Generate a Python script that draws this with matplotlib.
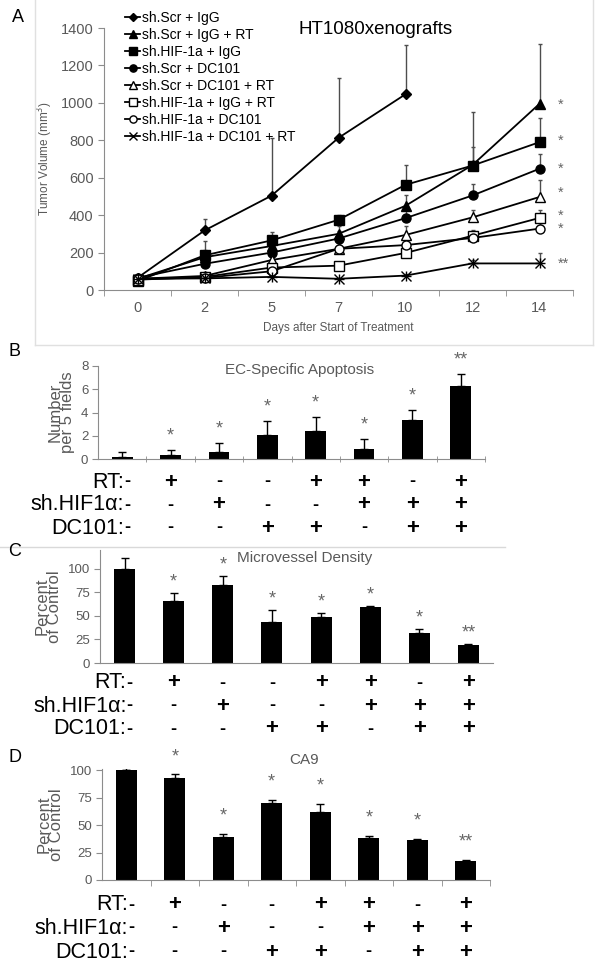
import matplotlib
matplotlib.use("Agg")
import matplotlib.pyplot as plt
from matplotlib.lines import Line2D

plt.rcParams['font.family'] = ['Liberation Sans', 'DejaVu Sans']

# ---- panel A data ----
days = ["0", "2", "5", "7", "10", "12", "14"]
series_names = ["sh.Scr + IgG", "sh.Scr + IgG + RT", "sh.HIF-1a + IgG", "sh.Scr + DC101",
                "sh.Scr + DC101 + RT", "sh.HIF-1a + IgG + RT", "sh.HIF-1a + DC101",
                "sh.HIF-1a + DC101 + RT"]
scr_igg = [65, 318, 504, 813, 1046]
scr_igg_rt = [60, 175, 235, 300, 450, 668, 995]
hif_igg = [48, 185, 265, 375, 562, 665, 790]
scr_dc101 = [65, 140, 200, 275, 384, 505, 648]
scr_dc101_rt = [60, 75, 160, 220, 294, 388, 497]
hif_igg_rt = [55, 70, 120, 130, 198, 290, 385]
hif_dc101 = [60, 65, 100, 220, 240, 278, 328]
hif_dc101_rt = [60, 62, 70, 60, 77, 142, 142]

err_scr_igg = [0, 62, 306, 318, 262]
err_scr_igg_rt = [0, 85, 55, 40, 60, 282, 320]
err_hif_igg = [0, 30, 45, 25, 105, 100, 130]
err_scr_dc101 = [0, 40, 40, 40, 50, 60, 80]
err_scr_dc101_rt = [0, 20, 30, 30, 48, 40, 92]
err_hif_igg_rt = [0, 10, 30, 20, 30, 30, 40]
err_hif_dc101 = [0, 10, 20, 20, 20, 30, 30]
err_hif_dc101_rt = [0, 5, 10, 5, 10, 20, 55]

a_stars = ["*", "*", "*", "*", "*", "*", "**"]
a_star_vals = [990, 800, 650, 520, 398, 328, 140]

# ---- panels B-D data ----
rt_row = ["-", "+", "-", "-", "+", "+", "-", "+"]
hif_row = ["-", "-", "+", "-", "-", "+", "+", "+"]
dc_row = ["-", "-", "-", "+", "+", "-", "+", "+"]
bar_stars = ["", "*", "*", "*", "*", "*", "*", "**"]

apoptosis = [0.15, 0.35, 0.6, 2.1, 2.45, 0.9, 3.35, 6.25]
apoptosis_err = [0.45, 0.45, 0.75, 1.15, 1.2, 0.85, 0.9, 1.1]
mvd = [100, 66, 83, 44, 49, 60, 32, 19]
mvd_err = [11, 8, 9, 12, 4, 1, 4, 1]
ca9 = [100, 93, 39, 70, 62, 38, 36, 17]
ca9_err = [1.5, 3, 3, 3, 7, 2, 1.5, 1.5]

W, H = 600, 964
fig = plt.figure(figsize=(W / 100, H / 100), dpi=100)


def fbox(l, t, r, b):
    return [l / W, 1 - b / H, (r - l) / W, (b - t) / H]


grey = "0.35"
spine = "0.55"

# faint frame around panel A
fig.add_artist(Line2D([35 / W, 35 / W], [1, 1 - 345 / H], color="0.88", lw=1))
fig.add_artist(Line2D([593 / W, 593 / W], [1, 1 - 345 / H], color="0.88", lw=1))
fig.add_artist(Line2D([35 / W, 593 / W], [1 - 345 / H, 1 - 345 / H], color="0.88", lw=1))
# faint line above panel C
fig.add_artist(Line2D([0, 505 / W], [1 - 547 / H, 1 - 547 / H], color="0.85", lw=1))

# ================= Panel A =================
ax = fig.add_axes(fbox(104, 28, 573, 290))
ys = [scr_igg, scr_igg_rt, hif_igg, scr_dc101, scr_dc101_rt, hif_igg_rt, hif_dc101, hif_dc101_rt]
errs = [err_scr_igg, err_scr_igg_rt, err_hif_igg, err_scr_dc101, err_scr_dc101_rt,
        err_hif_igg_rt, err_hif_dc101, err_hif_dc101_rt]
styles = [("D", "k", 5), ("^", "k", 6.5), ("s", "k", 6.5), ("o", "k", 6.5),
          ("^", "w", 6.5), ("s", "w", 6.5), ("o", "w", 6.5), ("x", "k", 6.5)]
handles = []
for y, e, (m, fc, ms), name in zip(ys, errs, styles, series_names):
    x = list(range(len(y)))
    ax.errorbar(x, y, yerr=[[0] * len(y), e], fmt="none", ecolor="0.3", elinewidth=1,
                capsize=1.5, zorder=2)
    ln, = ax.plot(x, y, color="k", lw=1.3, marker=m, markersize=ms, markerfacecolor=fc,
                  markeredgecolor="k", markeredgewidth=1.0, label=name, zorder=3)
    if m == "x":
        ax.plot(x, y, ls="none", marker="+", markersize=ms, color="k", mew=1.0, zorder=3)
    handles.append(ln)

for s, v in zip(a_stars, a_star_vals):
    ax.text(6.27, v, s, fontsize=10.5, color="0.4", ha="left", va="center")

ax.set_xlim(-0.5, 6.5)
ax.set_ylim(0, 1400)
ax.set_xticks(range(7))
ax.set_xticklabels(days)
ax.set_xticks([i + 0.5 for i in range(-1, 7)], minor=True)
ax.tick_params(axis="x", which="major", length=0, pad=8, labelsize=10.5, labelcolor=grey)
ax.tick_params(axis="x", which="minor", length=4, color=spine, direction="out")
ax.set_yticks(range(0, 1401, 200))
ax.tick_params(axis="y", length=4, color=spine, labelsize=10.5, labelcolor=grey)
for s in ["top", "right"]:
    ax.spines[s].set_visible(False)
for s in ["left", "bottom"]:
    ax.spines[s].set_color(spine)
ax.set_ylabel("Tumor Volume (mm$^3$)", fontsize=8.5, color=grey, labelpad=4)
ax.set_xlabel("Days after Start of Treatment", fontsize=8.5, color=grey, labelpad=5)
ax.text(0.58, 0.995, "HT1080xenografts", transform=ax.transAxes, fontsize=13.5,
        ha="center", va="center")
ax.legend(handles=handles, loc="upper left", bbox_to_anchor=(118 / W, 1 - 4 / H),
          bbox_transform=fig.transFigure, frameon=False, fontsize=10, borderpad=0,
          labelspacing=0.22, handlelength=1.1, handletextpad=0.15, markerscale=0.8)
fig.text(12 / W, 1 - 18 / H, "A", fontsize=13, va="center", ha="left")


# ================= Bar panels =================
def bar_panel(box, vals, err, ylim, yticks, title, title_y, ylabel, row_offs, star_off,
              letter, letter_y, tick_dir):
    ax = fig.add_axes(fbox(*box))
    x = list(range(len(vals)))
    ax.bar(x, vals, width=0.43, color="k", zorder=2)
    ax.errorbar(x, vals, yerr=[[0] * len(vals), err], fmt="none", ecolor="k",
                elinewidth=1, capsize=3, capthick=1, zorder=3)
    for i, s in enumerate(bar_stars):
        if s:
            ax.annotate(s, (i, vals[i] + err[i]), xytext=(0, star_off),
                        textcoords="offset pixels", ha="center", va="center",
                        fontsize=13, color="0.4")
    ax.set_xlim(-0.5, len(vals) - 0.5)
    ax.set_ylim(*ylim)
    ax.set_yticks(yticks)
    ax.set_xticks([])
    if tick_dir:
        ax.set_xticks([i + 0.5 for i in range(len(vals))], minor=True)
        ax.tick_params(axis="x", which="minor", length=4, color=spine, direction=tick_dir)
    ax.tick_params(axis="y", length=4, color=spine, labelsize=9.5, labelcolor=grey, pad=3)
    for s in ["top", "right"]:
        ax.spines[s].set_visible(False)
    for s in ["left", "bottom"]:
        ax.spines[s].set_color(spine)
    ax.set_ylabel(ylabel, fontsize=12, color=grey, linespacing=0.85, labelpad=4)
    ax.text(0.52, title_y, title, transform=ax.transAxes, fontsize=11, color=grey,
            ha="center", va="center")
    for name, row, off in zip(["RT:", "sh.HIF1\u03b1:", "DC101:"],
                              [rt_row, hif_row, dc_row], row_offs):
        ax.annotate(name, (0, 0), xytext=(2, -off), textcoords="offset pixels",
                    ha="right", va="center", fontsize=15.5, annotation_clip=False)
        for i, m in enumerate(row):
            ax.annotate(m, (i + (0.1 if i == 0 else 0.0), 0), xytext=(0, -off),
                        textcoords="offset pixels", ha="center", va="center",
                        fontsize=13 if m == "-" else 16, fontweight="bold",
                        annotation_clip=False)
    fig.text(8 / W, 1 - letter_y / H, letter, fontsize=13, va="center", ha="left")
    return ax


bar_panel((98, 366, 485, 459), apoptosis, apoptosis_err, (0, 8), range(0, 9, 2),
          "EC-Specific Apoptosis", 0.96, "Number\nper 5 fields", [23, 46, 69], 14,
          "B", 352, "inout")
bar_panel((100, 550, 493, 663), mvd, mvd_err, (0, 120), range(0, 101, 25),
          "Microvessel Density", 0.93, "Percent\nof Control", [20, 43, 66], 11,
          "C", 551, None)
bar_panel((102, 769, 490, 880), ca9, ca9_err, (0, 101), range(0, 101, 25),
          "CA9", 1.08, "Percent\nof Control", [25, 48, 72], 18,
          "D", 757, "out")

fig.savefig("out.png", dpi=100)
